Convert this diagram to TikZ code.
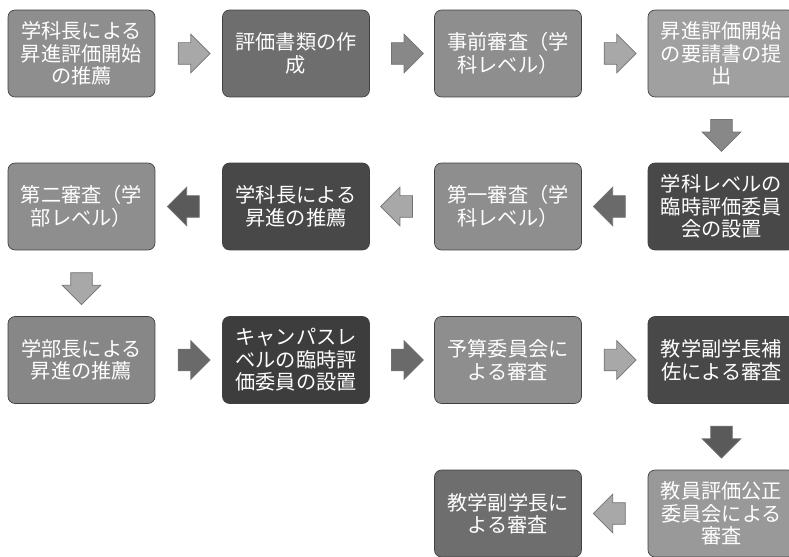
\documentclass[tikz,border=0pt]{standalone}
\usepackage{fontspec}
\newfontfamily\jpfont{Noto Sans CJK JP}
\usetikzlibrary{shapes.arrows,calc}

\definecolor{boxmid}{HTML}{8E8E8E}
\definecolor{boxlight}{HTML}{A0A0A0}
\definecolor{boxgrain}{HTML}{6E6E6E}
\definecolor{boxdark}{HTML}{484848}
\definecolor{arrlight}{HTML}{A8A8A8}
\definecolor{arrdark}{HTML}{6A6A6A}

\tikzset{
  stepbox/.style={draw=black!75, rounded corners=4pt, minimum width=2.94cm,
    minimum height=1.74cm, text=white, align=center, inner sep=1pt,
    font=\jpfont\fontsize{11.5}{12.8}\selectfont},
  blockarrow/.style={single arrow, draw=black!55, fill=arrlight, inner xsep=0pt,
    inner ysep=0.21cm, minimum height=0.64cm, single arrow head extend=0.17cm}
}

\begin{document}
\begin{tikzpicture}[x=0.02cm, y=-0.02cm]
	\clip (0,0) rectangle (789,557);
	
	% 1段目（左から右）
	\node (b1) [stepbox, fill=boxmid] at (81.5,53.5) {学科長による\\昇進評価開始\\の推薦};
	\node (b2) [stepbox, fill=boxgrain] at (296,53.5) {評価書類の作\\成};
	\node (b3) [stepbox, fill=boxmid] at (508,53.5) {事前審査（学\\科レベル）};
	\node (b4) [stepbox, fill=boxlight] at (721.5,53.5) {昇進評価開始\\の要請書の提\\出};
	
	% 2段目（右から左）
	\node (b5) [stepbox, fill=boxdark] at (721.5,206.5) {学科レベルの\\臨時評価委員\\会の設置};
	\node (b6) [stepbox, fill=boxmid] at (508,206.5) {第一審査（学\\科レベル）};
	\node (b7) [stepbox, fill=boxdark] at (296,206.5) {学科長による\\昇進の推薦};
	\node (b8) [stepbox, fill=boxmid] at (81.5,206.5) {第二審査（学\\部レベル）};
	
	% 3段目（左から右）
	\node (b9) [stepbox, fill=boxmid!95!black] at (81.5,360) {学部長による\\昇進の推薦};
	\node (b10) [stepbox, fill=boxdark!85!black] at (296,360) {キャンパスレ\\ベルの臨時評\\価委員の設置};
	\node (b11) [stepbox, fill=boxmid] at (508,360) {予算委員会に\\よる審査};
	\node (b12) [stepbox, fill=boxdark] at (721.5,360) {教学副学長補\\佐による審査};
	
	% 4段目（右から左）
	\node (b13) [stepbox, fill=boxmid!90!white] at (721.5,513.5) {教員評価公正\\委員会による\\審査};
	\node (b14) [stepbox, fill=boxgrain] at (508,513.5) {教学副学長に\\よる審査};
	
	% 矢印：箱と箱の中間に置く
	\node (a1) [blockarrow] at ($(b1.east)!0.5!(b2.west)$) {};
	\node (a2) [blockarrow, fill=arrdark!80!white] at ($(b2.east)!0.5!(b3.west)$) {};
	\node (a3) [blockarrow] at ($(b3.east)!0.5!(b4.west)$) {};
	\node (a4) [blockarrow, fill=arrdark!80!white, rotate=-90] at ($(b4.south)!0.5!(b5.north)$) {};
	\node (a5) [blockarrow, fill=arrdark, rotate=180] at ($(b5.west)!0.5!(b6.east)$) {};
	\node (a6) [blockarrow, rotate=180] at ($(b6.west)!0.5!(b7.east)$) {};
	\node (a7) [blockarrow, fill=arrdark!85!black, rotate=180] at ($(b7.west)!0.5!(b8.east)$) {};
	\node (a8) [blockarrow, rotate=-90] at ($(b8.south)!0.5!(b9.north)$) {};
	\node (a9) [blockarrow, fill=arrdark] at ($(b9.east)!0.5!(b10.west)$) {};
	\node (a10) [blockarrow, fill=arrdark] at ($(b10.east)!0.5!(b11.west)$) {};
	\node (a11) [blockarrow] at ($(b11.east)!0.5!(b12.west)$) {};
	\node (a12) [blockarrow, fill=arrdark!85!black, rotate=-90] at ($(b12.south)!0.5!(b13.north)$) {};
	\node (a13) [blockarrow, rotate=180] at ($(b13.west)!0.5!(b14.east)$) {};
\end{tikzpicture}
\end{document}
